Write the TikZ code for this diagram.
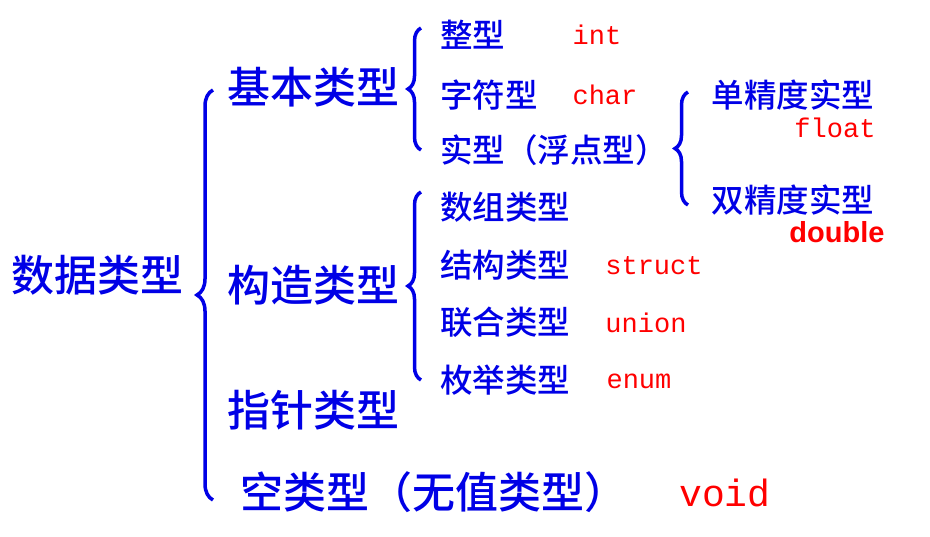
\documentclass[tikz,border=0pt]{standalone}
\usepackage{fontspec}
\usetikzlibrary{decorations.pathreplacing}
\newfontfamily\cjk{Noto Sans CJK SC Medium}
\newfontfamily\monof{Liberation Mono}
\newfontfamily\sansb{Liberation Sans}
\definecolor{tblue}{RGB}{0,0,230}
\tikzset{
 big/.style={font=\cjk\fontsize{43}{45}\selectfont, text=tblue, inner sep=0pt},
 mid/.style={font=\cjk\fontsize{32.5}{34}\selectfont, text=tblue, inner sep=0pt},
 kw/.style={font=\monof\fontsize{27}{30}\selectfont, text=red, inner sep=0pt},
 br/.style={draw=tblue, line width=3.5pt, decorate, decoration={brace, amplitude=16pt}},
}
\begin{document}
\begin{tikzpicture}[x=1pt,y=1pt]
\useasboundingbox[fill=white] (0,0) rectangle (930,-537);
\node[big] (root) at (98,-275) {数据类型};
\draw[br] (213,-500) -- (213,-90);
\node[big] (basic) at (313,-87) {基本类型};
\node[big] (cons) at (313,-285) {构造类型};
\node[big] (ptr) at (313,-410) {指针类型};
\node[big, anchor=west] (void) at (240,-492) {空类型（无值类型）};
\node[kw, font=\monof\fontsize{38}{40}\selectfont] (voidk) at (725,-493) {void};
\draw[br, decoration={amplitude=13pt}] (421,-150) -- (421,-28);
\node[mid, anchor=west] (int) at (440,-35) {整型};
\node[kw] (intk) at (597,-35) {int};
\node[mid, anchor=west] (chr) at (440,-95) {字符型};
\node[kw] (chrk) at (605,-95) {char};
\node[mid, anchor=west] (real) at (440,-150) {实型（浮点型）};
\draw[br, decoration={amplitude=13pt}] (688,-205) -- (688,-92);
\node[mid] (sgl) at (793,-95) {单精度实型};
\node[kw] (flt) at (835,-128) {float};
\node[mid] (dbl) at (793,-200) {双精度实型};
\node[font=\sansb\bfseries\fontsize{29}{30}\selectfont, text=red, inner sep=0pt] (dblk) at (837,-232) {double};
\draw[br, decoration={amplitude=13pt}] (421,-380) -- (421,-192);
\node[mid, anchor=west] (arr) at (440,-207) {数组类型};
\node[mid, anchor=west] (st) at (440,-265) {结构类型};
\node[kw] (stk) at (654,-266) {struct};
\node[mid, anchor=west] (un) at (440,-322) {联合类型};
\node[kw] (unk) at (646,-323) {union};
\node[mid, anchor=west] (en) at (440,-380) {枚举类型};
\node[kw] (enk) at (639,-381) {enum};
\end{tikzpicture}
\end{document}
